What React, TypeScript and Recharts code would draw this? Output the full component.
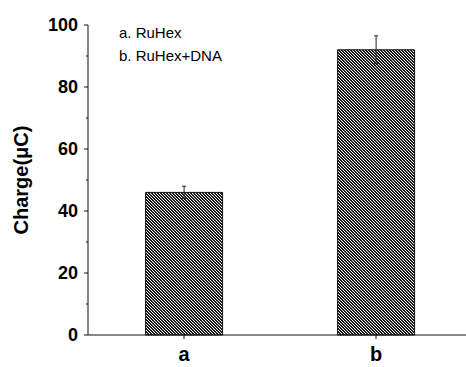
import { BarChart, Bar, XAxis, YAxis, ErrorBar } from 'recharts';

const categories = ['a', 'b'];
const charge = [46, 92];
const chargeErr = [2, 4.5];
const yTicks = [0, 10, 20, 30, 40, 50, 60, 70, 80, 90, 100];
const legendLines = ['a. RuHex', 'b. RuHex+DNA'];

const chartData = categories.map((name, i) => ({ name, charge: charge[i], err: chargeErr[i] }));

const font = 'Arial, "Liberation Sans", Helvetica, sans-serif';

// pixel-sized diagonal hatch, "\" direction
const hatchCells = [0, 1, 2].flatMap((y) => [0, 1, 2].map((x) => ({ x, y }))).filter((c) => (c.x - c.y + 3) % 3 !== 2);

const YTick = (props: any) => {
  const { x, y, payload } = props;
  const major = payload.value % 20 === 0;
  return (
    <g>
      <line x1={x + (major ? 6 : 8)} x2={x + 10} y1={y} y2={y} stroke="#111" strokeWidth={1} />
      {major && (
        <text x={x} y={y} textAnchor="end" dominantBaseline="central" fontFamily={font} fontWeight="bold" fontSize={18} fill="#000">
          {payload.value}
        </text>
      )}
    </g>
  );
};

const YLabel = () => (
  <text x={21} y={180} transform="rotate(-90 21 180)" textAnchor="middle" dominantBaseline="central" fontFamily={font} fontWeight="bold" fontSize={20} fill="#000">
    Charge(μC)
  </text>
);

const App = () => {
  return (
    <div style={{ position: 'absolute', left: 0, top: 0, width: 466, height: 367, overflow: 'hidden', background: '#fff' }}>
      <BarChart width={472} height={367} data={chartData} margin={{ top: 25, right: 0, left: 0, bottom: 0 }} barCategoryGap="30%">
        <defs>
          <pattern id="hatch" x="0" y="0" width="3" height="3" patternUnits="userSpaceOnUse">
            <rect x="0" y="0" width="3" height="3" fill="#fff" />
            {hatchCells.map((c) => (
              <rect key={`${c.x}-${c.y}`} x={c.x} y={c.y} width="1" height="1" fill="#1a1a1a" shapeRendering="crispEdges" />
            ))}
          </pattern>
        </defs>
        <XAxis
          dataKey="name"
          height={32}
          stroke="#111"
          tickSize={4}
          tickMargin={8}
          tick={{ fontFamily: font, fontWeight: 'bold', fontSize: 20, fill: '#000' }}
        />
        <YAxis
          width={88}
          domain={[0, 100]}
          ticks={yTicks}
          interval={0}
          stroke="#111"
          tickSize={4}
          tickMargin={6}
          tickLine={false}
          tick={<YTick />}
          label={{ content: <YLabel /> }}
        />
        <Bar dataKey="charge" fill="url(#hatch)" stroke="#111" strokeWidth={1} isAnimationActive={false}>
          <ErrorBar dataKey="err" width={2} stroke="#222" strokeWidth={1} direction="y" />
        </Bar>
        {legendLines.map((t, i) => (
          <text key={t} x={119} y={32 + i * 23} dominantBaseline="central" fontFamily={font} fontSize={15} fill="#000">
            {t}
          </text>
        ))}
      </BarChart>
    </div>
  );
};

export default App;
